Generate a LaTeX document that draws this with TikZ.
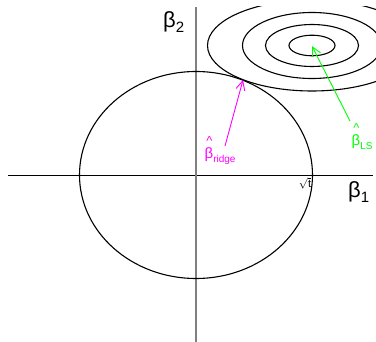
\documentclass[tikz,border=0pt]{standalone}
\usepackage{fontspec}
\setmainfont{Liberation Sans}
\usetikzlibrary{arrows.meta,shapes.geometric}
\definecolor{ridgecol}{RGB}{255,0,255}
\definecolor{lscol}{RGB}{0,255,0}
\definecolor{axisgrey}{RGB}{128,128,128}
\newcommand\bigbeta[1]{\fontsize{22}{24}\selectfont β\raisebox{-0.25em}{\fontsize{15}{16}\selectfont #1}}
\newcommand\hatbeta[1]{\fontsize{15}{16}\selectfont β\raisebox{-0.25em}{\fontsize{10}{11}\selectfont #1}}
\newcommand\hatmark{\fontsize{13}{14}\selectfont\textasciicircum}
\tikzset{
  contour/.style={draw=black, line width=1.1pt},
  estarrow/.style={line width=0.9pt, -{Straight Barb[length=9pt,width=9pt]}},
  lbl/.style={inner sep=0pt, anchor=base west},
  hatlbl/.style={inner sep=0pt, anchor=south}
}
\begin{document}
\begin{tikzpicture}[x=1pt,y=-1pt]
\useasboundingbox (0,0) rectangle (376,342);
% axes
\coordinate (xl) at (8,175.5);
\coordinate (xr) at (373,175.5);
\coordinate (yt) at (196,7);
\coordinate (yb) at (196,342);
\draw[black, line width=0.8pt] (xl) -- (xr);
\draw[axisgrey, line width=1.4pt] (yt) -- (yb);
% constraint region
\node[draw=black, line width=1.1pt, ellipse, minimum width=233pt, minimum height=207pt, inner sep=0pt] (circ) at (196,175) {};
% contours
\begin{scope}
\clip (0,7) rectangle (376,342);
\coordinate (ctr) at (312,45.5);
\draw[contour] (ctr) ellipse [x radius=23, y radius=10.3];
\draw[contour] (ctr) ellipse [x radius=46.5, y radius=21];
\draw[contour] (ctr) ellipse [x radius=69.5, y radius=33];
\draw[contour] (ctr) ellipse [x radius=104.5, y radius=45.5];
\end{scope}
% labels
\node[lbl] (b2) at (163,27.5) {\bigbeta{2}};
\node[lbl] (b1) at (348,197.5) {\bigbeta{1}};
\node[inner sep=0pt] (sqt) at (305,183) {\fontsize{11}{12}\selectfont$\sqrt{\mathrm{t}}$};
\node[lbl, text=ridgecol] (bridge) at (204.5,159) {\hatbeta{ridge}};
\node[hatlbl, text=ridgecol] (hridge) at (209.5,146) {\hatmark};
\node[lbl, text=lscol] (bls) at (351.5,145.5) {\hatbeta{LS}};
\node[hatlbl, text=lscol] (hls) at (356.5,132.5) {\hatmark};
% arrows
\coordinate (rtail) at (225,146);
\coordinate (rhead) at (243,80);
\coordinate (ltail) at (350,121);
\coordinate (lhead) at (312,46);
\draw[estarrow, ridgecol] (rtail) -- (rhead);
\draw[estarrow, lscol] (ltail) -- (lhead);
\end{tikzpicture}
\end{document}
